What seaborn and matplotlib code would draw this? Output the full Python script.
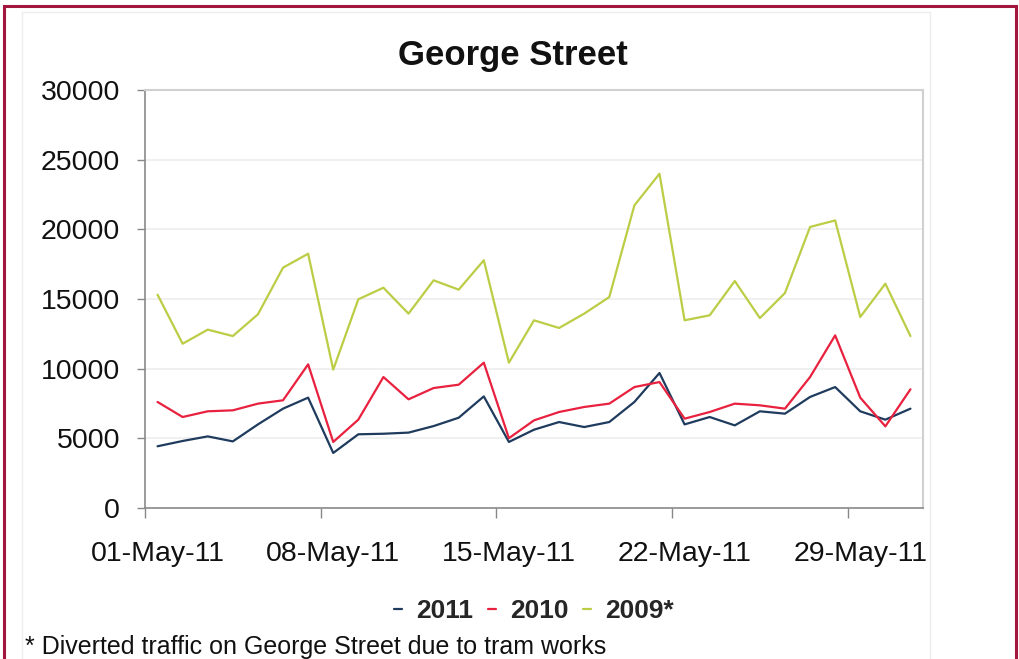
import numpy as np
import pandas as pd
import matplotlib
matplotlib.use("Agg")
import matplotlib.pyplot as plt
from matplotlib.patches import Rectangle
from matplotlib.lines import Line2D
import seaborn as sns

days = list(range(1, 32))
tick_labels = ["01-May-11", "08-May-11", "15-May-11", "22-May-11", "29-May-11"]
series_names = ["2011", "2010", "2009*"]

v2011 = [4430, 4810, 5140, 4780, 6000, 7130, 7920, 3950, 5290, 5330, 5410, 5880,
         6480, 8010, 4740, 5620, 6170, 5810, 6170, 7610, 9690, 6000, 6530, 5930,
         6940, 6770, 7970, 8680, 6940, 6340, 7130]
v2010 = [7610, 6530, 6940, 7010, 7490, 7730, 10310, 4740, 6340, 9400, 7800, 8610,
         8850, 10430, 5010, 6290, 6890, 7250, 7490, 8680, 9040, 6410, 6890, 7490,
         7370, 7130, 9400, 12390, 7920, 5860, 8520]
v2009 = [15310, 11790, 12800, 12340, 13900, 17250, 18250, 9930, 14980, 15810, 13950,
         16340, 15670, 17780, 10430, 13470, 12920, 13950, 15140, 21720, 23990, 13470,
         13830, 16290, 13630, 15430, 20170, 20640, 13710, 16100, 12340]

colors = ["#1F3B5E", "#E8213F", "#BCCD45"]

df = pd.concat([
    pd.DataFrame({"day": days, "value": v, "series": name})
    for name, v in zip(series_names, [v2011, v2010, v2009])
], ignore_index=True)

sns.set_theme(style="white")
plt.rcParams["font.family"] = ["Liberation Sans", "DejaVu Sans"]

fig = plt.figure(figsize=(10.2, 6.59), dpi=100)
ax = fig.add_axes([145/1020, 1-508/659, (923-145)/1020, (508-90)/659])

sns.lineplot(data=df, x="day", y="value", hue="series", palette=colors,
             hue_order=series_names, linewidth=1.6, ax=ax, legend=False)

ax.set_xlim(0.5, 31.5)
ax.set_ylim(0, 30000)
ax.set_yticks(np.arange(0, 30001, 5000))
ax.yaxis.grid(True, color="#EEEEEE", linewidth=1.2)
ax.set_axisbelow(True)
ax.set_xlabel("")
ax.set_ylabel("")

# major ticks at day boundaries, labels at day centres
ax.set_xticks([0.5, 7.5, 14.5, 21.5, 28.5])
ax.set_xticklabels([])
ax.set_xticks([1, 8, 15, 22, 29], minor=True)
ax.set_xticklabels(tick_labels, minor=True)
ax.tick_params(axis="x", which="major", direction="out", length=7, width=1, color="#888888")
ax.tick_params(axis="x", which="minor", length=0, pad=24, labelsize=20.5, labelcolor="#111111")
ax.tick_params(axis="y", direction="out", length=6, width=1, color="#888888",
               pad=12, labelsize=20.5, labelcolor="#111111")
ax.tick_params(left=True, bottom=True)

for s in ["left", "bottom"]:
    ax.spines[s].set_color("#8A8A8A")
    ax.spines[s].set_linewidth(1.2)
for s in ["top", "right"]:
    ax.spines[s].set_color("#D0D0D0")
    ax.spines[s].set_linewidth(1.5)

fig.text(0.503, 1-55/659, "George Street", ha="center", va="center",
         fontsize=25, fontweight="bold", color="#111111")

handles = [Line2D([], [], color=c, linewidth=1.6) for c in colors]
fig.legend(handles, series_names, loc="center", bbox_to_anchor=(534/1020, 1-611/659),
           ncol=3, frameon=False, handlelength=0.3, handletextpad=0.55,
           columnspacing=0.55, prop={"weight": "bold", "size": 19})

fig.text(25/1020, 5/659, "* Diverted traffic on George Street due to tram works",
         ha="left", va="baseline", fontsize=18, color="#111111")

# faint chart-area box and dark red frame
fig.patches.append(Rectangle((22/1020, -0.05), (930-22)/1020, 1.05-12/659,
                             transform=fig.transFigure, fill=False,
                             edgecolor="#EDEDED", linewidth=1))
fig.patches.append(Rectangle((4/1020, -0.05), (1016-4)/1020, 1.05-6/659,
                             transform=fig.transFigure, fill=False,
                             edgecolor="#A3173F", linewidth=2.2))

fig.savefig("out.png", dpi=100)
